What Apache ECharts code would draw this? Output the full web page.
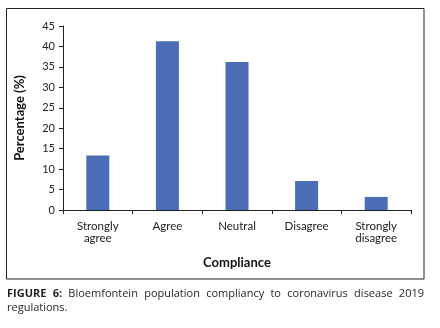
<!DOCTYPE html>
<html><head><meta charset="utf-8">
<script src="https://cdn.jsdelivr.net/npm/echarts@6/dist/echarts.min.js"></script>
<style>
html,body{margin:0;padding:0;background:#fff;}
#c{position:absolute;left:0;top:0;width:440px;height:328px;}
.cap{position:absolute;left:7px;width:417px;font-family:'Open Sans',Lato,sans-serif;font-size:11px;line-height:14px;color:#231f20;white-space:nowrap;}
#cap1{top:286px;text-align:justify;text-align-last:justify;}
#cap2{top:300px;}
</style></head>
<body>
<div id="c"></div>
<div class="cap" id="cap1"><b>FIGURE 6:</b> Bloemfontein population compliancy to coronavirus disease 2019</div>
<div class="cap" id="cap2">regulations.</div>
<script>
const categories = ['Strongly\nagree', 'Agree', 'Neutral', 'Disagree', 'Strongly\ndisagree'];
const values = [13.3, 41.3, 36.2, 7.1, 3.2];
const yTicks = [0, 45, 5];
const xTitle = 'Compliance';
const yTitle = 'Percentage (%)';

const chart = echarts.init(document.getElementById('c'));
const font = 'Lato, "Open Sans", sans-serif';
chart.setOption({
  animation: false,
  grid: {left: 63, top: 26, right: 29, bottom: 118},
  xAxis: {
    type: 'category', data: categories,
    axisLine: {lineStyle: {color: '#222', width: 1}},
    axisTick: {show: true, length: 4, lineStyle: {color: '#222'}},
    axisLabel: {color: '#222', fontSize: 11.5, fontFamily: font, lineHeight: 12, margin: 10},
    name: xTitle, nameLocation: 'middle', nameGap: 46,
    nameTextStyle: {color: '#111', fontSize: 13, fontWeight: 'bold', fontFamily: font}
  },
  yAxis: {
    type: 'value', min: yTicks[0], max: yTicks[1], interval: yTicks[2],
    axisLine: {show: true, lineStyle: {color: '#222', width: 1}},
    axisTick: {show: true, length: 4, lineStyle: {color: '#222'}},
    splitLine: {show: false},
    axisLabel: {color: '#222', fontSize: 11, fontFamily: font, margin: 8},
    name: yTitle, nameLocation: 'middle', nameGap: 37, nameRotate: 90,
    nameTextStyle: {color: '#111', fontSize: 13, fontWeight: 'bold', fontFamily: font}
  },
  series: [{
    type: 'bar', data: values, barWidth: 23,
    itemStyle: {color: '#4a6db5'}
  }],
  graphic: [{
    type: 'rect', shape: {x: 6.5, y: 8.5, width: 417.5, height: 270.5},
    style: {fill: null, stroke: '#222', lineWidth: 1}, silent: true
  }]
});
</script>
</body></html>
